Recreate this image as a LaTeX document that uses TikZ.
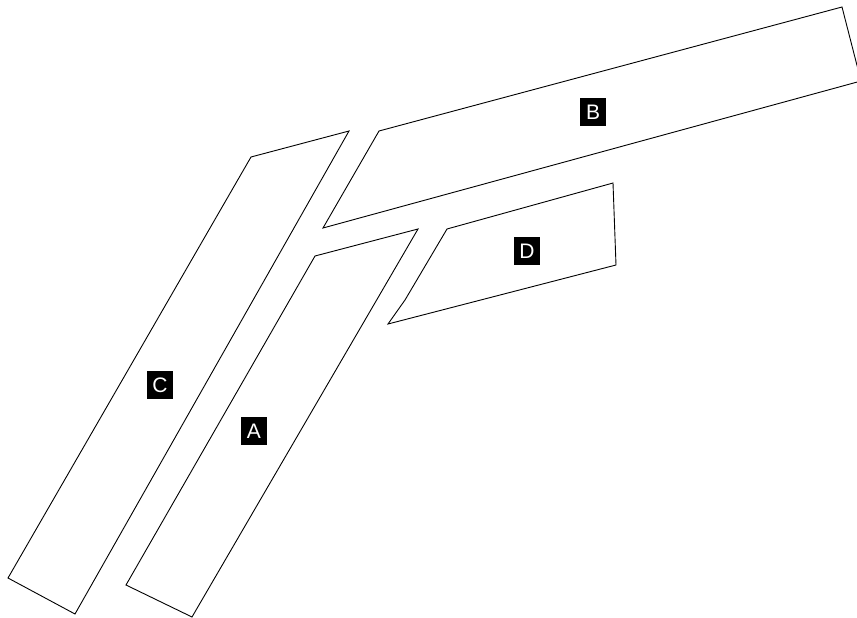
\documentclass[tikz,border=0pt]{standalone}
\usepackage{fontspec}
\setmainfont{Liberation Sans}

\begin{document}
\begin{tikzpicture}[
  x=1pt, y=-1pt,
  parcel/.style={draw=black, line width=0.9pt, line join=miter, fill=white},
  tag/.style={fill=black, text=white, font=\fontsize{21}{21}\selectfont,
    minimum width=26pt, minimum height=28pt, inner sep=0pt}
]
\useasboundingbox (0,0) rectangle (857,618);
\clip (0,0) rectangle (857,618);

% parcels
\draw[parcel] (251,157) -- (349,131) -- (75,614) -- (8,578) -- cycle;
\draw[parcel] (315,256) -- (418,229) -- (192,617) -- (126,585) -- cycle;
\draw[parcel] (379,131) -- (842,7) -- (861,81) -- (323,228) -- cycle;
\draw[parcel] (447,229) -- (613,183) -- (616,265) -- (388,324) -- (405,300) -- cycle;

% labels
\node[tag] (lotA) at (254,431) {A};
\node[tag] (lotB) at (593,112) {B};
\node[tag] (lotC) at (160,385) {C};
\node[tag] (lotD) at (527,251) {D};
\end{tikzpicture}
\end{document}
